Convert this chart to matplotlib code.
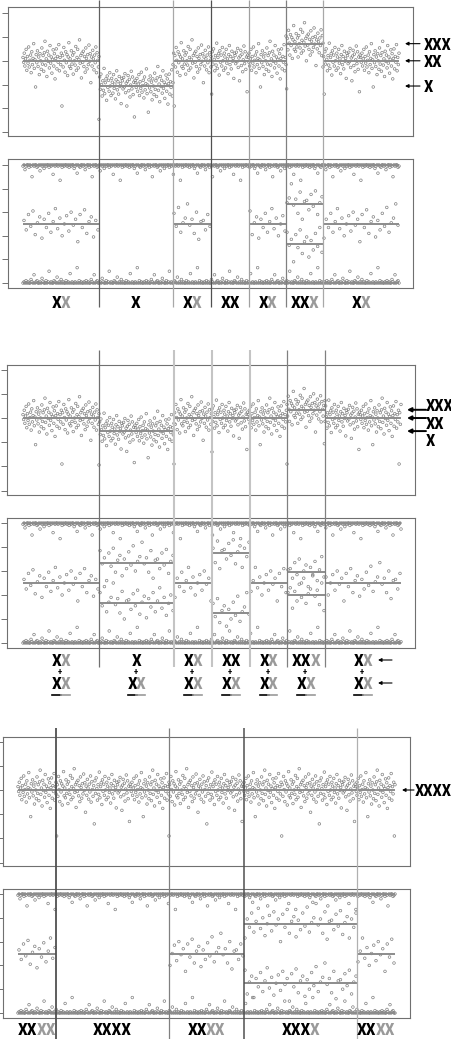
import numpy as np
import matplotlib.pyplot as plt
from matplotlib import font_manager

# segment boundaries (position along the chromosome, same units as the page width)
bounds_a = [23, 99, 173, 211, 249, 286, 323, 399]
bounds_b = [23, 99, 174, 212, 250, 287, 325, 401]
bounds_c = [18, 56, 169, 244, 357, 395]

# log R ratio segment means
lrr_a = [0, -0.53, 0, 0, 0, 0.36, 0]
lrr_b = [0, -0.27, 0, 0, 0, 0.17, 0]
lrr_c = [0, 0, 0, 0, 0]

# B allele frequency levels per segment
baf_a = [[0, .5, 1], [0, 1], [0, .5, 1], [0, 1], [0, .5, 1], [0, .33, .67, 1], [0, .5, 1]]
baf_b = [[0, .5, 1], [0, .33, .67, 1], [0, .5, 1], [0, .25, .75, 1], [0, .5, 1], [0, .4, .59, 1], [0, .5, 1]]
baf_c = [[0, .5, 1], [0, 1], [0, .5, 1], [0, .25, .75, 1], [0, .5, 1]]

# probe scatter around the segment values
lrr_dev = [0.07, -0.03, 0.16, -0.11, 0.04, 0.24, -0.20, 0.09, -0.05, 0.29,
           -0.13, 0.01, 0.12, -0.25, 0.19, -0.08, 0.05, 0.36, -0.16, 0.02,
           -0.55, 0.13, -0.04, 0.21, -0.12, 0.08, -0.29, 0.15, 0.00, -0.18,
           0.27, -0.07, 0.11, -0.22, 0.17, 0.41, -0.09, 0.04, -0.33, 0.20,
           -0.01, 0.12, -0.15, 0.32, -0.05, 0.08, -0.26, 0.03, 0.23, -0.11,
           0.15, -0.38, 0.05, 0.25, -0.17, 0.09, -0.03, 0.34, -0.21, 0.07,
           -0.08, 0.16, -0.95, 0.11, -0.13, 0.28, 0.01, -0.24, 0.19, -0.04,
           0.13, -0.31, 0.08, 0.38, -0.12, 0.04, -0.16, 0.21, -0.07, 0.12,
           -0.28, 0.17, 0.00, -0.09, 0.30, -0.20, 0.07, 0.24, -0.15, 0.03,
           0.44, -0.05, 0.11, -0.36, 0.16, -0.03, 0.20, -0.12, 0.09, -0.24,
           0.27, 0.05, -0.17, 0.13, -0.08, 0.33, -0.01, 0.15, -0.46, 0.08,
           -0.11, 0.22, 0.04, -0.19, 0.12, -0.04, 0.29, -0.25, 0.17, 0.01,
           -0.13, 0.09, -0.70, 0.19, -0.07, 0.25, 0.03, -0.21, 0.11, -0.09,
           0.37, -0.16, 0.07, 0.15, -0.30, 0.21, -0.03, 0.12, -0.11, 0.28,
           0.00, -0.20, 0.16, 0.08, -0.15, 0.24, -0.05, 0.04, -0.27, 0.13,
           0.32, -0.08, 0.09, -0.17, 0.20, -0.01, 0.05, -0.37, 0.16, 0.11,
           -0.06, 0.18, -0.02, 0.26, -0.14, 0.06, -0.42, 0.10, 0.22, -0.10,
           0.14, -0.23, 0.02, 0.31, -0.06, 0.19, -0.18, 0.08, -0.65, 0.12]
hom_dev = [0.00, 0.01, 0.00, 0.02, 0.00, 0.01, 0.00, 0.00, 0.03, 0.01,
           0.00, 0.07, 0.00, 0.01, 0.02, 0.00, 0.00, 0.01, 0.00, 0.04,
           0.01, 0.00, 0.00, 0.02, 0.00, 0.01, 0.10, 0.00, 0.01, 0.00,
           0.00, 0.02, 0.01, 0.00, 0.05, 0.00, 0.01, 0.00, 0.03, 0.00,
           0.01, 0.00, 0.00, 0.02, 0.00, 0.01, 0.00, 0.08, 0.00, 0.01,
           0.00, 0.00, 0.01, 0.00, 0.13, 0.00, 0.02, 0.00, 0.01, 0.00]
het_dev = [0.03, -0.05, 0.08, -0.02, 0.11, -0.09, 0.01, 0.06, -0.12, 0.04,
           -0.03, 0.09, -0.07, 0.02, 0.13, -0.04, 0.05, -0.10, 0.00, 0.07,
           -0.06, 0.10, -0.01, 0.04, -0.15, 0.08, -0.03, 0.12, -0.08, 0.02,
           0.06, -0.11, 0.03, -0.05, 0.09, -0.02, 0.14, -0.07, 0.01, 0.05,
           0.17, -0.01, 0.04, -0.08, 0.10, -0.13, 0.02]

# genotype labels: letters and shade (k = black, g = grey)
lab_a = ["XX", "X", "XX", "XX", "XX", "XXX", "XX"]
shade_a = ["kg", "k", "kg", "kk", "kg", "kkg", "kg"]
lab_b1 = ["XX", "X", "XX", "XX", "XX", "XXX", "XX"]
shade_b1 = ["kg", "k", "kg", "kk", "kg", "kkg", "kg"]
lab_b2 = ["XX"] * 7
shade_b2 = ["kg"] * 7
lab_c = ["XXXX"] * 5
shade_c = ["kkgg", "kkkk", "kkgg", "kkkg", "kkgg"]

right_a = ["XXX", "XX", "X"]
right_a_lvl = [0.36, 0, -0.53]
right_b = ["XXX", "XX", "X"]
right_b_lvl = [0.17, 0, -0.27]
right_c = ["XXXX"]
right_c_lvl = [0]

W, H = 452, 1039
PT = '#808080'
LN = '#8c8c8c'
shade_col = {'k': 'black', 'g': '#9a9a9a'}
SIZE = 12.5
RSIZE = 12


def pick_font(cands):
    for c in cands:
        try:
            font_manager.findfont(c, fallback_to_default=False)
            return c
        except ValueError:
            pass
    return 'DejaVu Sans'


FONT = pick_font(['Liberation Sans Narrow', 'Roboto Condensed', 'Open Sans', 'Liberation Sans'])

fig = plt.figure(figsize=(W / 100, H / 100), dpi=100)
renderer = fig.canvas.get_renderer()


def px_axes(x0, y0, x1, y1):
    ax = fig.add_axes([x0 / W, 1 - y1 / H, (x1 - x0) / W, (y1 - y0) / H])
    ax.set_xlim(x0, x1)
    for s in ax.spines.values():
        s.set_color('#707070')
        s.set_linewidth(0.8)
    ax.set_xticks([])
    ax.tick_params(axis='y', direction='out', length=4, width=0.7,
                   color='#707070', labelleft=False)
    return ax


def lrr_panel(ax, bounds, means, ylim):
    ax.set_ylim(*ylim)
    ax.set_yticks([-1.5, -1, -0.5, 0, 0.5, 1])
    k = 0
    for a, b, m in zip(bounds[:-1], bounds[1:], means):
        n = int(round((b - a) * 1.6))
        x = np.linspace(a, b, n)
        y = m + np.take(lrr_dev, np.arange(k, k + n), mode='wrap')
        ax.scatter(x, y, s=3.5, facecolors='none', edgecolors=PT, linewidths=0.5)
        ax.hlines(m, a, b, color=LN, lw=1.4)
        k += n


def baf_panel(ax, bounds, levels, ylim):
    ax.set_ylim(*ylim)
    ax.set_yticks([0, .2, .4, .6, .8, 1])
    n = int(bounds[-1] - bounds[0])
    x = np.linspace(bounds[0], bounds[-1], n)
    d0 = np.take(hom_dev, np.arange(n), mode='wrap')
    d1 = np.take(hom_dev, np.arange(17, 17 + n), mode='wrap')
    ax.scatter(x, d0, s=3.5, facecolors='none', edgecolors=PT, linewidths=0.5)
    ax.scatter(x, 1 - d1, s=3.5, facecolors='none', edgecolors=PT, linewidths=0.5)
    ax.hlines([0, 1], bounds[0], bounds[-1], color=LN, lw=1.4)
    k = 0
    for a, b, lv in zip(bounds[:-1], bounds[1:], levels):
        for v in lv[1:-1]:
            m = int(round((b - a) * 0.45))
            xs = np.linspace(a + 1, b - 1, m)
            ys = v + np.take(het_dev, np.arange(k, k + m), mode='wrap')
            ax.scatter(xs, ys, s=3.5, facecolors='none', edgecolors=PT, linewidths=0.5)
            ax.hlines(v, a, b, color=LN, lw=1.4)
            k += m


a1 = px_axes(8, 7, 413, 136)
lrr_panel(a1, bounds_a, lrr_a, (-1.58, 1.13))
a2 = px_axes(8, 159, 413, 288)
baf_panel(a2, bounds_a, baf_a, (-0.042, 1.05))
a3 = px_axes(7, 365, 415, 495)
lrr_panel(a3, bounds_b, lrr_b, (-1.59, 1.095))
a4 = px_axes(7, 518, 415, 648)
baf_panel(a4, bounds_b, baf_b, (-0.042, 1.042))
a5 = px_axes(3, 737, 410, 866)
lrr_panel(a5, bounds_c, lrr_c, (-1.57, 1.095))
a6 = px_axes(3, 889, 410, 1018)
baf_panel(a6, bounds_c, baf_c, (-0.042, 1.042))

# overlay in page pixels for boundaries, labels and arrows
ov = fig.add_axes([0, 0, 1, 1])
ov.set_xlim(0, W)
ov.set_ylim(H, 0)
ov.axis('off')

ov.vlines(bounds_a[1:-1], 0, 307, colors=['#606060', '#a8a8a8', '#505050', '#a0a0a0', '#808080', '#a8a8a8'], lw=0.9)
ov.vlines(bounds_b[1:-1], 350, 667, colors=['#707070', '#c4c4c4', '#c4c4c4', '#c4c4c4', '#808080', '#808080'], lw=[0.9, 1.5, 1.5, 1.5, 0.9, 0.9])
ov.vlines(bounds_c[1:-1], 728, H, colors=['#505050', '#808080', '#505050', '#b0b0b0'], lw=[1.3, 0.9, 1.1, 0.9])


def ypx(ax, v):
    return ov.transData.inverted().transform(ax.transData.transform((0, v)))[1]


def advance(size):
    # advance of one letter X, measured from the renderer
    t1 = ov.text(0, 0, 'X', fontsize=size, fontweight='bold', family=FONT)
    t2 = ov.text(0, 0, 'XX', fontsize=size, fontweight='bold', family=FONT)
    a = t2.get_window_extent(renderer).width - t1.get_window_extent(renderer).width
    t1.remove()
    t2.remove()
    return a


ADV = {SIZE: advance(SIZE), RSIZE: advance(RSIZE)}


def xs_text(x, cy, letters, shades, ha='center', size=SIZE):
    # split into runs of one shade, laid out by the letter advance
    adv = ADV[size]
    runs = []
    for ch, sh in zip(letters, shades):
        if runs and runs[-1][1] == sh:
            runs[-1][0] += ch
        else:
            runs.append([ch, sh])
    total = adv * len(letters) - 1.2 * (len(runs) - 1)
    left = x - total / 2 if ha == 'center' else x
    spans = []
    for s, sh in runs:
        ov.text(left, cy + size * 0.5, s, ha='left', va='baseline', fontsize=size,
                fontweight='bold', color=shade_col[sh], family=FONT)
        spans += [(left + i * adv, left + (i + 1) * adv, sh) for i in range(len(s))]
        left += adv * len(s) - 1.2
    return spans


def seg_mid(bounds):
    return [(a + b) / 2 for a, b in zip(bounds[:-1], bounds[1:])]


for cx, t, s in zip(seg_mid(bounds_a), lab_a, shade_a):
    xs_text(cx, 302, t, s)
for cx, t, s in zip(seg_mid(bounds_b), lab_b1, shade_b1):
    xs_text(cx, 660, t, s)
    ov.text(cx - 1, 675.5, '+', ha='center', va='baseline', fontsize=6.5,
            fontweight='bold', color='black', family=FONT)
for cx, t, s in zip(seg_mid(bounds_b), lab_b2, shade_b2):
    spans = xs_text(cx, 683, t, s)
    for x0, x1, sh in spans:
        ov.plot([x0 + 0.5, x1 - 0.5], [694.5, 694.5], color=shade_col[sh], lw=1.2)
for cx, t, s in zip(seg_mid(bounds_c), lab_c, shade_c):
    xs_text(cx, 1029, t, s)

arrow = dict(arrowstyle='-|>', color='black', lw=0.8, mutation_scale=5, shrinkA=0, shrinkB=0)
for t, v in zip(right_a, right_a_lvl):
    y = ypx(a1, v)
    ov.annotate('', xy=(405, y), xytext=(420, y), arrowprops=arrow)
    xs_text(424, y, t, 'k' * len(t), ha='left', size=RSIZE)
for t, v, ly in zip(right_b, right_b_lvl, [405, 423, 440]):
    y = ypx(a3, v)
    ov.annotate('', xy=(407, y), xytext=(426, y),
                arrowprops=dict(arrow, lw=1.4, mutation_scale=6))
    xs_text(426, ly, t, 'k' * len(t), ha='left', size=RSIZE)
for t, v in zip(right_c, right_c_lvl):
    y = ypx(a5, v)
    ov.annotate('', xy=(402, y), xytext=(414, y), arrowprops=arrow)
    xs_text(415, y, t, 'k' * len(t), ha='left', size=RSIZE)
for y in [660, 683]:
    ov.annotate('', xy=(378, y), xytext=(392, y), arrowprops=arrow)

fig.savefig('out.png', dpi=100)
